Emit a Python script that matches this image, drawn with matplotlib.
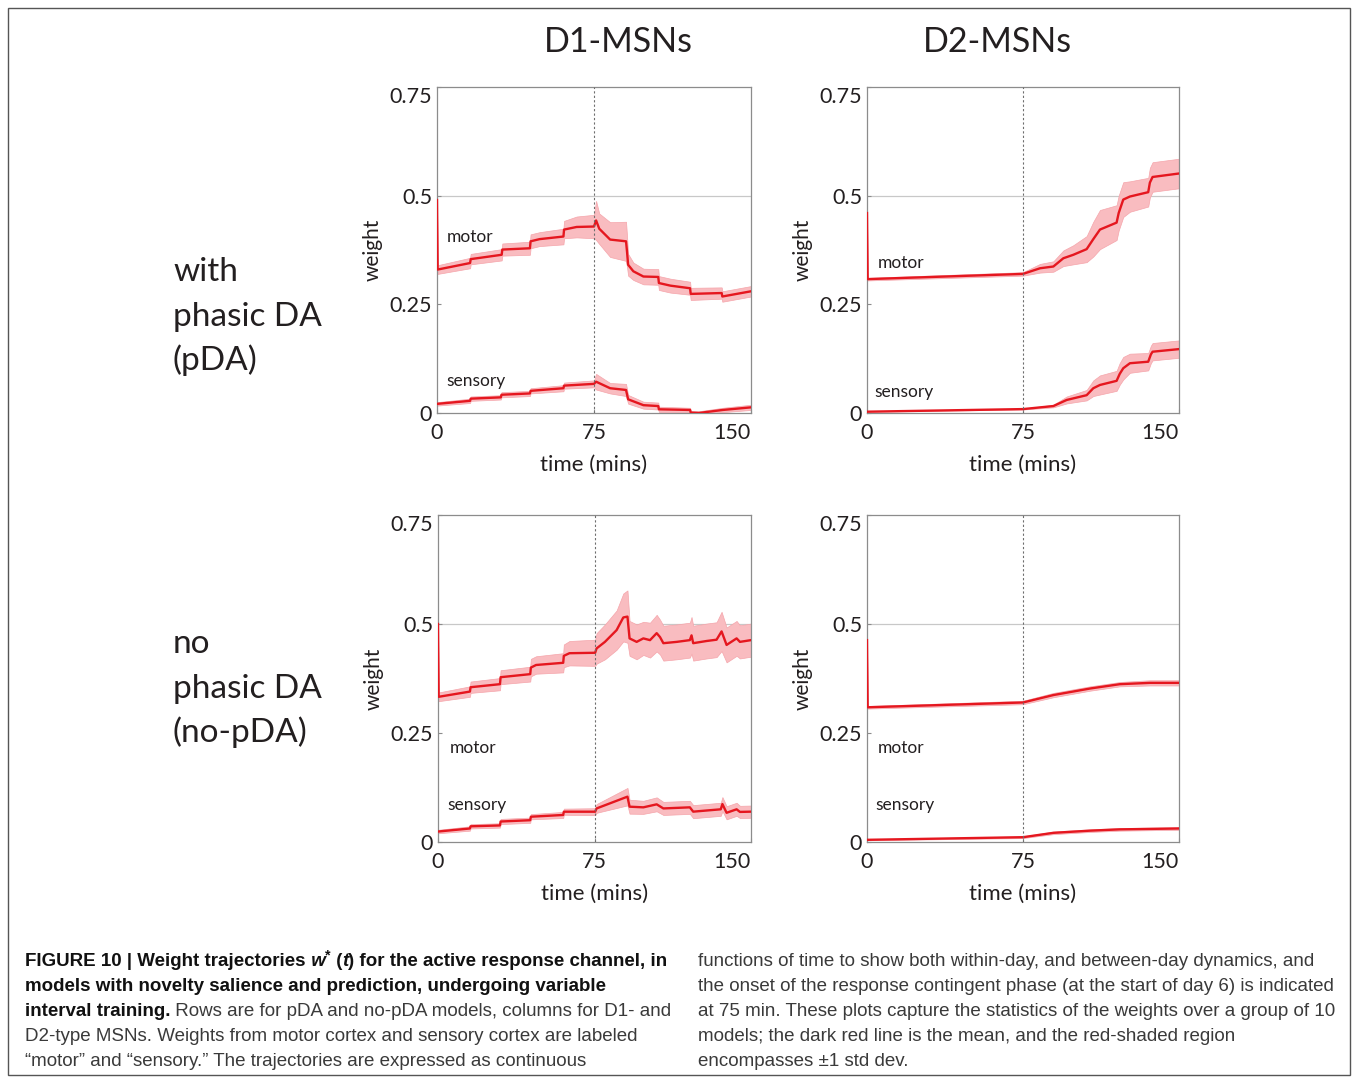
import numpy as np
import matplotlib
matplotlib.use("Agg")
import matplotlib.pyplot as plt
from matplotlib.transforms import IdentityTransform
from matplotlib.patches import Rectangle

# weight trajectories: time (mins), mean weight, std dev over 10 models
# D1-MSNs, with phasic DA
d1_pda_motor_t = [0, 0.3, 15.8, 16.1, 30.9, 31.2, 44.4, 44.7, 49, 60.4, 60.7, 66.7, 75, 76, 77.5,
                  82.7, 90.3, 90.8, 91.3, 93.8, 98.6, 105.7, 106, 111.5, 120.9, 121.2, 136, 136.3, 150]
d1_pda_motor_m = [0.49, 0.33, 0.345, 0.354, 0.364, 0.376, 0.379, 0.395, 0.40, 0.406, 0.422, 0.428, 0.429,
                  0.443, 0.424, 0.399, 0.395, 0.37, 0.341, 0.326, 0.314, 0.313, 0.299, 0.293, 0.287, 0.274,
                  0.276, 0.268, 0.280]
d1_pda_motor_s = [0.0, 0.01, 0.012, 0.012, 0.013, 0.014, 0.015, 0.016, 0.016, 0.018, 0.02, 0.024, 0.027,
                  0.045, 0.035, 0.04, 0.045, 0.035, 0.025, 0.02, 0.018, 0.018, 0.016, 0.016, 0.015, 0.014,
                  0.013, 0.012, 0.012]
d1_pda_sens_t = [0, 15.8, 16.1, 30.5, 30.8, 44.4, 44.7, 60.4, 60.7, 75, 76, 82.7, 90.3, 91.3, 98.6,
                 105.7, 106, 120.9, 121.2, 125, 136.5, 150]
d1_pda_sens_m = [0.021, 0.028, 0.033, 0.036, 0.042, 0.045, 0.051, 0.057, 0.063, 0.067, 0.072, 0.057,
                 0.053, 0.0315, 0.018, 0.016, 0.0085, 0.007, 0.001, 0.0, 0.007, 0.013]
d1_pda_sens_s = [0.004, 0.005, 0.005, 0.005, 0.006, 0.006, 0.006, 0.007, 0.007, 0.008, 0.018, 0.012,
                 0.014, 0.01, 0.008, 0.008, 0.006, 0.005, 0.004, 0.004, 0.005, 0.006]

# D2-MSNs, with phasic DA
d2_pda_motor_t = [0, 0.3, 75, 83.2, 89.6, 94.4, 99.2, 105.6, 108.8, 112, 120, 121, 123.2, 126.4, 135.2,
                  136, 137.3, 150]
d2_pda_motor_m = [0.46, 0.308, 0.320, 0.333, 0.337, 0.356, 0.364, 0.377, 0.40, 0.422, 0.438, 0.46, 0.491,
                  0.498, 0.508, 0.53, 0.543, 0.551]
d2_pda_motor_s = [0.0, 0.003, 0.004, 0.01, 0.012, 0.018, 0.022, 0.03, 0.04, 0.045, 0.04, 0.04, 0.04,
                  0.035, 0.033, 0.034, 0.034, 0.034]
d2_pda_sens_t = [0, 75, 89.6, 96, 105.6, 108.8, 112, 120, 121.5, 123.2, 126.4, 135.2, 136.5, 137.3, 150]
d2_pda_sens_m = [0.003, 0.009, 0.016, 0.030, 0.041, 0.057, 0.0645, 0.074, 0.09, 0.103, 0.1145, 0.118,
                 0.135, 0.141, 0.147]
d2_pda_sens_s = [0.0, 0.001, 0.003, 0.008, 0.012, 0.018, 0.022, 0.023, 0.025, 0.026, 0.022, 0.02, 0.02,
                 0.02, 0.02]

# D1-MSNs, no phasic DA
d1_nopda_motor_t = [0, 0.3, 15.3, 15.6, 29.7, 30, 44.2, 44.5, 47, 60, 60.3, 63, 75.3, 76, 80, 85.6, 88.8,
                    90.8, 91.8, 95.2, 98.4, 101.6, 104.8, 106.4, 108, 114.4, 120.7, 121.5, 122.3, 128.7,
                    133.5, 135.9, 138.3, 143.1, 144.7, 150]
d1_nopda_motor_m = [0.50, 0.333, 0.345, 0.355, 0.362, 0.378, 0.385, 0.40, 0.406, 0.411, 0.427, 0.433,
                    0.434, 0.444, 0.459, 0.486, 0.515, 0.517, 0.467, 0.459, 0.467, 0.463, 0.479, 0.47,
                    0.456, 0.459, 0.463, 0.474, 0.456, 0.461, 0.464, 0.483, 0.452, 0.467, 0.459, 0.463]
d1_nopda_motor_s = [0.0, 0.01, 0.012, 0.013, 0.014, 0.016, 0.017, 0.02, 0.02, 0.022, 0.026, 0.028, 0.03,
                    0.035, 0.04, 0.045, 0.055, 0.06, 0.04, 0.04, 0.038, 0.04, 0.042, 0.04, 0.04, 0.04,
                    0.04, 0.042, 0.04, 0.04, 0.04, 0.045, 0.04, 0.04, 0.038, 0.038]
d1_nopda_sens_t = [0, 15.3, 15.6, 29.7, 30, 44.2, 44.5, 60, 60.3, 75.3, 76, 90.8, 91.8, 98.4, 104.8, 108,
                   120.7, 122.3, 135.5, 136.3, 138.3, 143.1, 144.7, 150]
d1_nopda_sens_m = [0.024, 0.031, 0.036, 0.038, 0.047, 0.050, 0.058, 0.062, 0.0695, 0.0695, 0.077, 0.104,
                   0.081, 0.0795, 0.0864, 0.077, 0.0795, 0.0696, 0.075, 0.087, 0.067, 0.075, 0.069, 0.0696]
d1_nopda_sens_s = [0.004, 0.005, 0.005, 0.005, 0.006, 0.006, 0.006, 0.007, 0.007, 0.008, 0.01, 0.02,
                   0.016, 0.015, 0.016, 0.015, 0.015, 0.015, 0.015, 0.016, 0.015, 0.015, 0.014, 0.014]

# D2-MSNs, no phasic DA
d2_nopda_motor_t = [0, 0.3, 75, 89.6, 107.2, 121.6, 136, 150]
d2_nopda_motor_m = [0.463, 0.309, 0.320, 0.337, 0.352, 0.362, 0.365, 0.365]
d2_nopda_motor_s = [0.0, 0.003, 0.004, 0.005, 0.005, 0.005, 0.006, 0.006]
d2_nopda_sens_t = [0, 75, 89.6, 107.2, 121.6, 150]
d2_nopda_sens_m = [0.005, 0.011, 0.021, 0.026, 0.029, 0.031]
d2_nopda_sens_s = [0.001, 0.002, 0.003, 0.003, 0.003, 0.003]

col_titles = ["D1-MSNs", "D2-MSNs"]
row_titles = [["with", "phasic DA", "(pDA)"], ["no", "phasic DA", "(no-pDA)"]]
yticks = [0, 0.25, 0.5, 0.75]
ytick_labels = ["0", "0.25", "0.5", "0.75"]
xticks = [0, 75, 150]
xtick_labels = ["0", "75", "150"]

W, H = 1356, 1078
fig = plt.figure(figsize=(W / 100, H / 100), dpi=100)
FONT = ["Lato", "DejaVu Sans"]
CAP_FONT = ["Liberation Sans Narrow", "Liberation Sans", "DejaVu Sans"]
TXT = "#231f20"
RED = "#e5171f"
PINK = "#f9bcc0"
GREY = "#8c8c8c"


def px_axes(left, top, right, bottom):
    return fig.add_axes([left / W, 1 - bottom / H, (right - left) / W, (bottom - top) / H])


def draw_panel(ax, series, label_pos):
    ax.set_xlim(0, 150)
    ax.set_ylim(0, 0.75)
    ax.axhline(0.5, color="#c8c8c8", lw=0.9, zorder=0)
    ax.axvline(75, color="#6e6e6e", lw=0.8, ls=(0, (2, 2)), zorder=4)
    for t, m, s in series:
        t, m, s = np.array(t), np.array(m), np.array(s)
        ax.fill_between(t, m - s, m + s, facecolor=PINK, edgecolor="#f5a5ab", lw=0.5, zorder=1)
        ax.plot(t, m, color=RED, lw=1.7, zorder=3)
    for name, (x, y) in zip(["motor", "sensory"], label_pos):
        ax.text(x, y, name, ha="left", va="center", fontsize=12.5, color=TXT, family=FONT)
    for sp in ax.spines.values():
        sp.set_color(GREY)
        sp.set_linewidth(0.9)
    ax.set_yticks(yticks, ytick_labels)
    ax.set_xticks(xticks, xtick_labels)
    ax.tick_params(direction="in", length=3, color=GREY, labelsize=15.5, labelcolor=TXT)
    ax.tick_params(axis="y", pad=3.5)
    ax.tick_params(axis="x", pad=7.5)
    for lab in ax.get_xticklabels() + ax.get_yticklabels():
        lab.set_family(FONT)
    ax.get_yticklabels()[-1].set_va("top")
    ax.get_xticklabels()[-1].set_ha("right")


# panel boxes in pixels: left, top, right, bottom
boxes = [(437, 87, 751, 413), (867, 87, 1179, 413), (438, 515, 751, 842), (867, 515, 1179, 842)]
panel_series = [
    [(d1_pda_motor_t, d1_pda_motor_m, d1_pda_motor_s), (d1_pda_sens_t, d1_pda_sens_m, d1_pda_sens_s)],
    [(d2_pda_motor_t, d2_pda_motor_m, d2_pda_motor_s), (d2_pda_sens_t, d2_pda_sens_m, d2_pda_sens_s)],
    [(d1_nopda_motor_t, d1_nopda_motor_m, d1_nopda_motor_s),
     (d1_nopda_sens_t, d1_nopda_sens_m, d1_nopda_sens_s)],
    [(d2_nopda_motor_t, d2_nopda_motor_m, d2_nopda_motor_s),
     (d2_nopda_sens_t, d2_nopda_sens_m, d2_nopda_sens_s)],
]
label_spots = [
    [(4.8, 0.406), (4.3, 0.074)],
    [(5.3, 0.346), (3.4, 0.048)],
    [(5.7, 0.216), (4.3, 0.085)],
    [(5.3, 0.216), (3.8, 0.085)],
]

for box, series, spots in zip(boxes, panel_series, label_spots):
    ax = px_axes(*box)
    draw_panel(ax, series, spots)
    l, t, r, b = box
    fig.text((l + r) / 2 / W, 1 - (b + 52) / H, "time (mins)", ha="center", va="center",
             fontsize=16, color=TXT, family=FONT)
    fig.text((l - 64) / W, 1 - (t + b) / 2 / H, "weight", ha="center", va="center", rotation=90,
             fontsize=15, color=TXT, family=FONT)

# column and row headings
for x, title in zip([618, 997], col_titles):
    fig.text(x / W, 1 - 42 / H, title, ha="center", va="center", fontsize=24.5, color=TXT, family=FONT)
for baselines, lines in zip([[281, 326, 370], [653, 698, 742]], row_titles):
    for yb, line in zip(baselines, lines):
        fig.text(173 / W, 1 - yb / H, line, ha="left", va="baseline", fontsize=24, color=TXT,
                 family=FONT)

# figure border
fig.add_artist(Rectangle((8 / W, 1 - 1075 / H), (1350 - 8) / W, (1075 - 8) / H,
                         transform=fig.transFigure, fill=False, ec="#555555", lw=1.0))

# caption
renderer = fig.canvas.get_renderer()
CAP_SIZE = 13.5


def caption_line(x, y, parts):
    for s, weight, style, dy, scale in parts:
        txt = fig.text(x, H - y + dy, s, transform=IdentityTransform(), fontsize=CAP_SIZE * scale,
                       fontweight=weight, fontstyle=style, family=CAP_FONT,
                       color="#111111" if weight == "bold" else "#3a3a3a", va="baseline", ha="left")
        x += txt.get_window_extent(renderer).width


B, N = "bold", "normal"
left_lines = [
    [("FIGURE 10 | Weight trajectories", B, "normal", 0, 1), (" w", B, "italic", 0, 1),
     ("*", B, "normal", 7, 0.75), (" (", B, "normal", 0, 1), ("t", B, "italic", 0, 1),
     (") for the active response channel, in", B, "normal", 0, 1)],
    [("models with novelty salience and prediction, undergoing variable", B, "normal", 0, 1)],
    [("interval training.", B, "normal", 0, 1),
     (" Rows are for pDA and no-pDA models, columns for D1- and", N, "normal", 0, 1)],
    [("D2-type MSNs. Weights from motor cortex and sensory cortex are labeled", N, "normal", 0, 1)],
    [("\u201cmotor\u201d and \u201csensory.\u201d The trajectories are expressed as continuous",
      N, "normal", 0, 1)],
]
right_lines = [
    "functions of time to show both within-day, and between-day dynamics, and",
    "the onset of the response contingent phase (at the start of day 6) is indicated",
    "at 75 min. These plots capture the statistics of the weights over a group of 10",
    "models; the dark red line is the mean, and the red-shaded region",
    "encompasses \u00b11 std dev.",
]
for i, parts in enumerate(left_lines):
    caption_line(25, 966 + 25 * i, parts)
for i, line in enumerate(right_lines):
    caption_line(698, 966 + 25 * i, [(line, N, "normal", 0, 1)])

fig.savefig("out.png", dpi=100)
